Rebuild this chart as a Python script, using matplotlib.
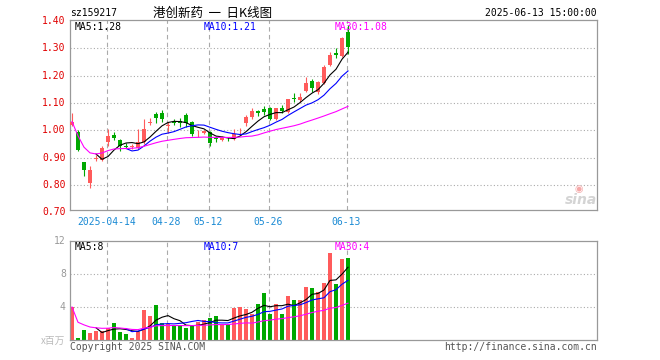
import matplotlib
matplotlib.use('Agg')
import matplotlib.pyplot as plt
import matplotlib.transforms as mtransforms
import numpy as np
import pandas as pd

# daily candles (price in CNY)
opens = [1.018, 0.995, 0.883, 0.809, 0.895, 0.892, 0.959, 0.983, 0.965, 0.943,
         0.938, 0.937, 0.959, 1.025, 1.059, 1.065, 1.014, 1.029, 1.034, 1.055,
         1.029, 0.985, 0.989, 0.995, 0.973, 0.966, 0.970, 0.968, 0.997, 1.026,
         1.048, 1.072, 1.077, 1.080, 1.040, 1.081, 1.068, 1.118, 1.111, 1.145,
         1.182, 1.141, 1.174, 1.239, 1.284, 1.272, 1.361]
closes = [1.032, 0.928, 0.855, 0.855, 0.898, 0.934, 0.979, 0.973, 0.943, 0.939,
          0.942, 0.959, 1.005, 1.032, 1.044, 1.042, 1.020, 1.026, 1.028, 1.025,
          0.988, 0.988, 0.998, 0.953, 0.968, 0.973, 0.968, 0.987, 0.999, 1.048,
          1.072, 1.063, 1.066, 1.042, 1.081, 1.072, 1.115, 1.116, 1.123, 1.172,
          1.154, 1.178, 1.233, 1.276, 1.276, 1.337, 1.306]
highs = [1.062, 1.000, 0.885, 0.870, 0.910, 0.943, 1.005, 0.995, 0.970, 0.954,
         0.950, 1.005, 1.042, 1.046, 1.068, 1.074, 1.032, 1.040, 1.046, 1.062,
         1.033, 1.000, 1.002, 0.999, 0.979, 0.980, 0.976, 1.004, 1.010, 1.056,
         1.081, 1.076, 1.089, 1.084, 1.082, 1.094, 1.115, 1.136, 1.136, 1.194,
         1.188, 1.182, 1.240, 1.288, 1.300, 1.343, 1.385]
lows = [1.015, 0.925, 0.834, 0.788, 0.888, 0.889, 0.942, 0.965, 0.924, 0.935,
        0.933, 0.930, 0.950, 1.020, 1.026, 1.032, 0.992, 1.018, 1.013, 1.013,
        0.979, 0.977, 0.985, 0.943, 0.959, 0.962, 0.962, 0.965, 0.986, 1.016,
        1.042, 1.052, 1.056, 1.038, 1.036, 1.064, 1.062, 1.105, 1.105, 1.141,
        1.141, 1.134, 1.170, 1.237, 1.264, 1.269, 1.280]
# volume in millions
volumes = [4.0, 0.3, 1.2, 0.8, 1.1, 1.1, 1.5, 2.1, 1.0, 0.7,
           0.3, 1.0, 3.6, 2.9, 4.2, 2.1, 2.0, 1.7, 1.7, 1.5,
           1.8, 2.2, 2.4, 2.7, 2.9, 1.8, 2.0, 3.9, 4.0, 3.75,
           3.15, 4.4, 5.7, 3.15, 4.4, 3.15, 5.3, 4.85, 4.8, 6.4,
           6.35, 5.8, 6.95, 10.6, 6.75, 9.8, 10.0]

date_idx = [6, 16, 23, 33, 46]
date_labels = ['2025-04-14', '04-28', '05-12', '05-26', '06-13']
price_ticks = [0.70, 0.80, 0.90, 1.00, 1.10, 1.20, 1.30, 1.40]
vol_ticks = [4, 8, 12]
price_ma_text = ['MA5:1.28', 'MA10:1.21', 'MA30:1.08']
vol_ma_text = ['MA5:8', 'MA10:7', 'MA30:4']

RED = '#ff5b5b'
GREEN = '#00a800'
GRID = '#aaaaaa'
MONO = 'DejaVu Sans Mono'
CJK = ['Noto Sans CJK SC', 'DejaVu Sans']
ma_colors = ['black', '#0000ff', '#ff00ff']

o = np.array(opens)
c = np.array(closes)
h = np.array(highs)
l = np.array(lows)
v = np.array(volumes)
n = len(c)
x = np.arange(n)
col = np.where(c >= o, RED, GREEN)

W, H = 660, 360
fig = plt.figure(figsize=(6.6, 3.6), dpi=100)
ax = fig.add_axes([70 / W, 1 - 210 / H, 527 / W, 190 / H])
axv = fig.add_axes([70 / W, 1 - 340 / H, 527 / W, 99 / H])

for a in (ax, axv):
    a.set_xlim(-1 / 3, 87.5)
    a.set_xticks([])
    a.set_yticks([])
    for s in a.spines.values():
        s.set_color('#999999')
        s.set_linewidth(0.9)
    for d in date_idx:
        a.axvline(d - 0.2, color=GRID, lw=0.8, ls=(0, (4, 3)), zorder=0)

# price panel
ax.set_ylim(0.7086, 1.4035)
for p in price_ticks[1:-1]:
    ax.axhline(p, color=GRID, lw=0.8, ls=(0, (1, 2)), zorder=0)
ax.vlines(x, l, h, colors=col, lw=0.8, zorder=2)
body = np.maximum(np.abs(c - o), 0.002)
ax.bar(x, body, bottom=np.minimum(o, c), width=0.82, color=col, lw=0, zorder=3)

cs = pd.Series(c)
mas = [cs.rolling(5).mean(), cs.rolling(10).mean(), cs.rolling(30, min_periods=1).mean()]
for m, mc in zip(mas, ma_colors):
    ax.plot(x, m, color=mc, lw=0.8, zorder=4)

ytr = mtransforms.blended_transform_factory(ax.transAxes, ax.transData)
for p in price_ticks:
    ax.text(-0.008, p, f'{p:.2f}', transform=ytr, ha='right', va='center',
            color='#e00000', fontsize=7, family=MONO, clip_on=False)
xtr = mtransforms.blended_transform_factory(ax.transData, ax.transAxes)
for d, lab in zip(date_idx, date_labels):
    ax.text(d - 0.3, -0.063, lab, transform=xtr, ha='center', va='center',
            color='#1a8ad4', fontsize=7, family=MONO, clip_on=False)

# volume panel
axv.set_ylim(0, 12)
for t in vol_ticks[:-1]:
    axv.axhline(t, color=GRID, lw=0.8, ls=(0, (1, 2)), zorder=0)
axv.bar(x, v, width=0.82, color=col, lw=0, zorder=2)
vs = pd.Series(v)
vmas = [vs.rolling(5).mean(), vs.rolling(10).mean(), vs.rolling(30, min_periods=1).mean()]
for m, mc in zip(vmas, ma_colors):
    axv.plot(x, m, color=mc, lw=0.8, zorder=4)
vtr = mtransforms.blended_transform_factory(axv.transAxes, axv.transData)
for t in vol_ticks:
    axv.text(-0.008, t, str(t), transform=vtr, ha='right', va='center',
             color='#999999', fontsize=7, family=MONO, clip_on=False)

# header and labels
fig.text(70 / W, 1 - 13 / H, 'sz159217', fontsize=7, family=MONO, va='center')
fig.text(213 / W, 1 - 13 / H, '港创新药  一  日K线图', fontsize=9, family=CJK,
         ha='center', va='center')
fig.text(597 / W, 1 - 13 / H, '2025-06-13 15:00:00', fontsize=7, family=MONO,
         ha='right', va='center')
for xp, txt, mc in zip([75, 204, 335], price_ma_text, ma_colors):
    fig.text(xp / W, 1 - 27 / H, txt, color=mc, fontsize=7, family=MONO, va='center')
for xp, txt, mc in zip([75, 204, 335], vol_ma_text, ma_colors):
    fig.text(xp / W, 1 - 247 / H, txt, color=mc, fontsize=7, family=MONO, va='center')

fig.text(65 / W, 1 - 341 / H, 'x百万', fontsize=7, family=CJK, color='#bbbbbb',
         ha='right', va='center')
fig.text(70 / W, 1 - 347 / H, 'Copyright 2025 SINA.COM', fontsize=7, family=MONO,
         color='#555555', va='center')
fig.text(597 / W, 1 - 347 / H, 'http://finance.sina.com.cn', fontsize=7, family=MONO,
         color='#555555', ha='right', va='center')

# sina watermark
fig.text(579 / W, 1 - 189 / H, '◉', fontsize=7, color='#f5a8a8', ha='center', va='center')
fig.text(581 / W, 1 - 200 / H, 'sina', fontsize=10, fontstyle='italic', fontweight='bold',
         color='#d4d4d4', ha='center', va='center')

fig.savefig('out.png', dpi=100)
